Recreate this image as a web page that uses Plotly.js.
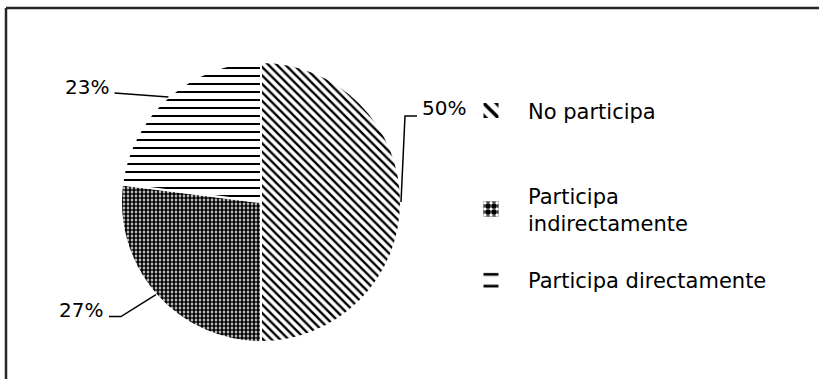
<!DOCTYPE html>
<html>
<head>
<meta charset="utf-8">
<script src="https://cdn.plot.ly/plotly-3.0.1.min.js"></script>
<style>
html,body{margin:0;padding:0;background:#fff;}
#chart{width:819px;height:379px;}
#chart path.legendpie{transform:translate(13px,0px) scale(1.5);}
</style>
</head>
<body>
<div id="chart"></div>
<script>
// ---- data ----
const categories = ["No participa", "Participa<br>indirectamente", "Participa directamente"];
const values = [50, 27, 23];
const patternShapes = ["\\", ".", "-"];

// ---- layout constants (pixels) ----
const W = 819, H = 379;
const CX = 261, CY = 202, R = 140;
const FONT = "DejaVu Sans, Open Sans, sans-serif";
const px = x => x / W;
const py = y => 1 - y / H;

// legend padding (blank lines) to mimic spacing between entries
const padTop = [true, true, false];
const legendLabels = categories.map((c, i) => padTop[i] ? " <br>" + c + "<br> " : c);

const total = values.reduce((a, b) => a + b, 0);
// anchors on the circle at each slice mid angle (clockwise from 12 o'clock)
let acc = 0;
const anchors = values.map(v => {
  const mid = (acc + v / 2) / total * 2 * Math.PI;
  acc += v;
  return [CX + R * Math.sin(mid), CY - R * Math.cos(mid)];
});

// leader styling: label offset & elbow offsets relative to anchor (pixels)
const leaderStyle = [
  {elbow: [[4, -86], [16, -86]], label: [43, -94]},
  {elbow: [[-35, 22], [-47, 22]], label: [-75, 15]},
  {elbow: [[-54, -4]], label: [-81, -10]}
];

const shapes = [];
const annotations = [];
values.forEach((v, i) => {
  const [ax, ay] = anchors[i];
  const st = leaderStyle[i];
  let path = "M" + px(ax) + "," + py(ay);
  st.elbow.forEach(([dx, dy]) => { path += " L" + px(ax + dx) + "," + py(ay + dy); });
  shapes.push({type: "path", xref: "paper", yref: "paper", path: path,
               line: {color: "#000", width: 1.5}});
  annotations.push({xref: "paper", yref: "paper",
    x: px(ax + st.label[0]), y: py(ay + st.label[1]),
    xanchor: "center", yanchor: "middle", showarrow: false,
    text: Math.round(v / total * 100) + "%",
    font: {family: FONT, size: 20, color: "#000"}});
});

// outer frame (top and left edges visible)
shapes.push({type: "line", xref: "paper", yref: "paper", x0: px(6), x1: 1.02, y0: py(8), y1: py(8), line: {color: "#262626", width: 2.5}});
shapes.push({type: "line", xref: "paper", yref: "paper", x0: px(6), x1: px(6), y0: py(8), y1: -0.02, line: {color: "#262626", width: 2.5}});

const trace = {
  type: "pie",
  labels: legendLabels,
  values: values,
  sort: false,
  direction: "clockwise",
  rotation: 0,
  textinfo: "none",
  hoverinfo: "none",
  domain: {x: [px(CX - R), px(CX + R)], y: [py(CY + R), py(CY - R)]},
  marker: {
    colors: ["#ffffff", "#ffffff", "#ffffff"],
    line: {color: "#ffffff", width: 2},
    pattern: {
      shape: patternShapes,
      fgcolor: "#000000",
      bgcolor: "#ffffff",
      size: [6, 4, 8],
      solidity: [0.4, 0.7, 0.25],
      fillmode: "replace"
    }
  }
};

const layout = {
  width: W, height: H,
  margin: {l: 0, r: 0, t: 0, b: 0},
  paper_bgcolor: "#fff",
  showlegend: true,
  legend: {
    x: px(478), y: py(63), xanchor: "left", yanchor: "top",
    font: {family: FONT, size: 21, color: "#000"},
    itemwidth: 40,
    bgcolor: "rgba(0,0,0,0)"
  },
  shapes: shapes,
  annotations: annotations
};

Plotly.newPlot("chart", [trace], layout, {staticPlot: true, displayModeBar: false});
</script>
</body>
</html>
